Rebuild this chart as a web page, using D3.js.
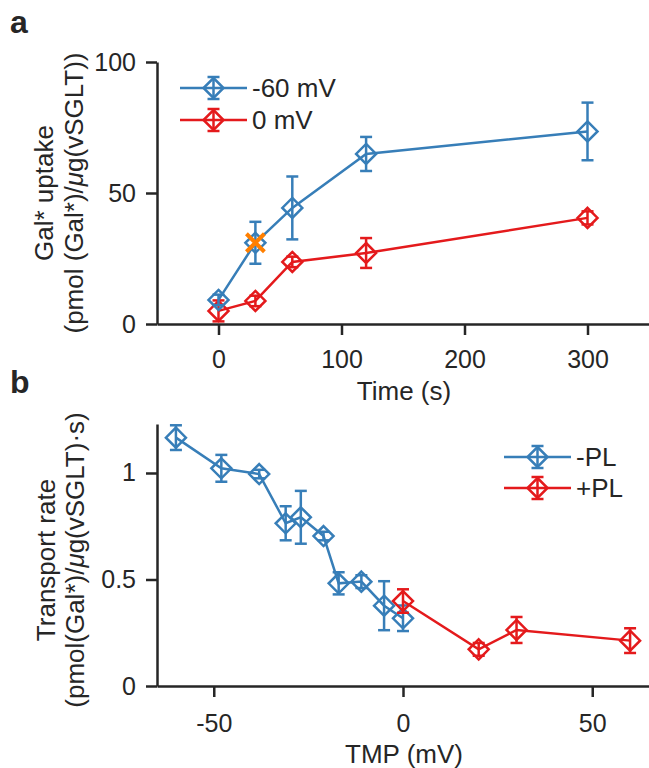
<!DOCTYPE html>
<html><head><meta charset="utf-8">
<script src="https://cdn.jsdelivr.net/npm/d3@7"></script>
<style>body{margin:0;background:#fff}svg{display:block}text{font-family:"Liberation Sans",Arial,sans-serif;fill:#262626}</style>
</head><body>
<svg id="c" width="649" height="768"></svg>
<script>
// Panel a data
const timeA = [0, 30, 60, 120, 300];
const neg60Mean = [9.2, 31, 44.3, 64.9, 73.5];
const neg60Err = [2, 8, 12, 6.5, 11];
const zeroMean = [5, 8.8, 23.7, 27.1, 40.5];
const zeroErr = [4, 2, 2, 5.7, 2.5];
const crossPoint = [30, 31];
const xTicksA = [0, 100, 200, 300];
const yTicksA = [0, 50, 100];
// Panel b data
const tmpMinusPL = [-60, -48, -38, -31, -27, -21, -17, -11, -5, 0];
const rateMinusPL = [1.166, 1.022, 0.995, 0.764, 0.792, 0.704, 0.482, 0.49, 0.377, 0.318];
const errMinusPL = [0.058, 0.063, 0.02, 0.08, 0.124, 0.02, 0.052, 0.03, 0.115, 0.06];
const tmpPlusPL = [0, 20, 30, 60];
const ratePlusPL = [0.399, 0.172, 0.263, 0.213];
const errPlusPL = [0.055, 0.03, 0.061, 0.058];
const xTicksB = [-50, 0, 50];
const yTicksB = [0, 0.5, 1];

const BLUE = "#377eb8", RED = "#e41a1c", ORANGE = "#ff7f00", AX = "#262626";
const TICKFS = 25, LABFS = 26;
const svg = d3.select("#c");

function diamond(g, x, y, color) {
  const r = 10;
  g.append("path").attr("d", `M${x},${y - r}L${x + r},${y}L${x},${y + r}L${x - r},${y}Z`)
    .attr("fill", "none").attr("stroke", color).attr("stroke-width", 2.5);
}
function errbar(g, x, y0, y1, color) {
  g.append("line").attr("x1", x).attr("x2", x).attr("y1", y0).attr("y2", y1)
    .attr("stroke", color).attr("stroke-width", 2.5);
  [y0, y1].forEach(yy => g.append("line").attr("x1", x - 6).attr("x2", x + 6)
    .attr("y1", yy).attr("y2", yy).attr("stroke", color).attr("stroke-width", 2.5));
}
function series(g, xs, ys, es, xS, yS, color) {
  const line = d3.line().x((d, i) => xS(xs[i])).y(d => yS(d));
  g.append("path").attr("d", line(ys)).attr("fill", "none").attr("stroke", color).attr("stroke-width", 2.5);
  ys.forEach((v, i) => {
    errbar(g, xS(xs[i]), yS(v - es[i]), yS(v + es[i]), color);
    diamond(g, xS(xs[i]), yS(v), color);
  });
}
function legendEntry(g, x0, x1, y, color, label) {
  const xm = (x0 + x1) / 2;
  g.append("line").attr("x1", x0).attr("x2", x1).attr("y1", y).attr("y2", y).attr("stroke", color).attr("stroke-width", 2.5);
  errbar(g, xm, y - 11, y + 11, color);
  diamond(g, xm, y, color);
  g.append("text").attr("x", x1 + 5).attr("y", y).attr("dy", "0.36em").attr("font-size", LABFS).text(label);
}
function styleAxis(sel) {
  sel.selectAll("path").attr("stroke", AX).attr("stroke-width", 2.5);
  sel.selectAll("line").attr("stroke", AX).attr("stroke-width", 2.5);
  sel.selectAll("text").attr("font-size", TICKFS).attr("fill", AX).style("font-family", '"Liberation Sans",Arial,sans-serif');
}
const fmt = d => String(d);

// ---------- Panel a ----------
const xA = d3.scaleLinear().domain([-50, 350]).range([157, 649]);
const yA = d3.scaleLinear().domain([0, 100]).range([324, 62]);
const gA = svg.append("g");
const axXA = gA.append("g").attr("transform", "translate(0,324)")
  .call(d3.axisBottom(xA).tickValues(xTicksA).tickFormat(fmt).tickSize(11).tickPadding(15).tickSizeOuter(0));
styleAxis(axXA);
const axYA = gA.append("g").attr("transform", "translate(157,0)")
  .call(d3.axisLeft(yA).tickValues(yTicksA).tickFormat(fmt).tickSize(11).tickPadding(10).tickSizeOuter(0));
styleAxis(axYA);
series(gA, timeA, zeroMean, zeroErr, xA, yA, RED);
series(gA, timeA, neg60Mean, neg60Err, xA, yA, BLUE);
(function () {
  const cx = xA(crossPoint[0]), cy = yA(crossPoint[1]), s = 9;
  gA.append("path").attr("d", `M${cx - s},${cy - s}L${cx + s},${cy + s}M${cx - s},${cy + s}L${cx + s},${cy - s}`)
    .attr("stroke", ORANGE).attr("stroke-width", 4).attr("fill", "none");
})();
legendEntry(gA, 180, 247, 88, BLUE, "-60 mV");
legendEntry(gA, 180, 247, 120, RED, "0 mV");
gA.append("text").attr("x", 404).attr("y", 400).attr("text-anchor", "middle").attr("font-size", LABFS).text("Time (s)");
const ylA = gA.append("text").attr("transform", "translate(0,193) rotate(-90)").attr("text-anchor", "middle").attr("font-size", LABFS);
ylA.append("tspan").attr("x", 0).attr("y", 53).text("Gal* uptake");
const tA2 = ylA.append("tspan").attr("x", 0).attr("y", 83);
tA2.append("tspan").text("(pmol (Gal*)/");
tA2.append("tspan").attr("font-style", "italic").text("μ");
tA2.append("tspan").text("g(vSGLT))");
svg.append("text").attr("x", 10).attr("y", 33).attr("font-size", 32).attr("font-weight", "bold").attr("fill", "#000").text("a");

// ---------- Panel b ----------
const xB = d3.scaleLinear().domain([-65, 65]).range([157, 649]);
const yB = d3.scaleLinear().domain([0, 1.23]).range([686, 424]);
const gB = svg.append("g");
const axXB = gB.append("g").attr("transform", "translate(0,686)")
  .call(d3.axisBottom(xB).tickValues(xTicksB).tickFormat(fmt).tickSize(11).tickPadding(17).tickSizeOuter(0));
styleAxis(axXB);
const axYB = gB.append("g").attr("transform", "translate(157,0)")
  .call(d3.axisLeft(yB).tickValues(yTicksB).tickFormat(fmt).tickSize(11).tickPadding(10).tickSizeOuter(0));
styleAxis(axYB);
series(gB, tmpMinusPL, rateMinusPL, errMinusPL, xB, yB, BLUE);
series(gB, tmpPlusPL, ratePlusPL, errPlusPL, xB, yB, RED);
legendEntry(gB, 504, 571, 457, BLUE, "-PL");
legendEntry(gB, 504, 571, 488, RED, "+PL");
gB.append("text").attr("x", 404).attr("y", 763).attr("text-anchor", "middle").attr("font-size", LABFS).text("TMP (mV)");
const ylB = gB.append("text").attr("transform", "translate(0,560) rotate(-90)").attr("text-anchor", "middle").attr("font-size", LABFS);
ylB.append("tspan").attr("x", 0).attr("y", 55).text("Transport rate");
const tB2 = ylB.append("tspan").attr("x", 0).attr("y", 84);
tB2.append("tspan").text("(pmol(Gal*)/");
tB2.append("tspan").attr("font-style", "italic").text("μ");
tB2.append("tspan").text("g(vSGLT)·s)");
svg.append("text").attr("x", 10).attr("y", 393).attr("font-size", 32).attr("font-weight", "bold").attr("fill", "#000").text("b");
</script>
</body></html>
